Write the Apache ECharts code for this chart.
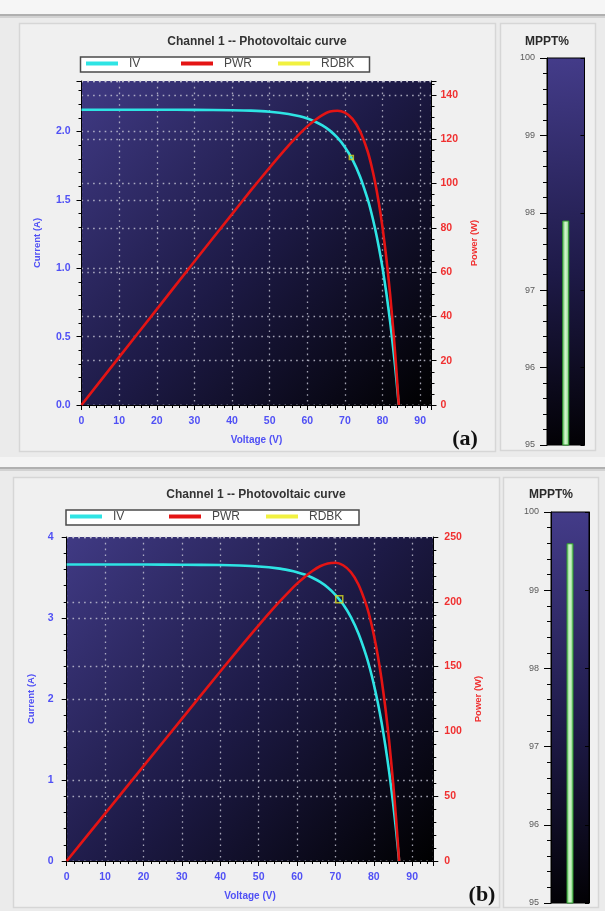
<!DOCTYPE html>
<html>
<head>
<meta charset="utf-8">
<script src="https://cdn.jsdelivr.net/npm/echarts@6/dist/echarts.min.js"></script>
<style>
  html, body { margin: 0; padding: 0; background: #ebebeb; }
  #chart { width: 605px; height: 911px; }
</style>
</head>
<body>
<div id="chart"></div>
<script>
// ---- Panel (a): PV sweep, lower irradiance ----
const voltsA = [0, 10, 20, 30, 40, 45, 50, 55, 58, 60, 62, 64, 66, 68, 70, 72, 74, 76, 77, 78, 79, 80, 81, 82, 83, 83.7, 84.3];
const ampsA  = [2.160, 2.160, 2.160, 2.159, 2.156, 2.153, 2.145, 2.129, 2.112, 2.096, 2.074, 2.045, 2.007, 1.955, 1.886, 1.795, 1.672, 1.509, 1.408, 1.291, 1.156, 1.000, 0.819, 0.611, 0.370, 0.179, 0];
const wattsA = [0, 21.6, 43.2, 64.8, 86.2, 96.9, 107.2, 117.1, 122.5, 125.8, 128.6, 130.9, 132.5, 132.9, 132.0, 129.2, 123.7, 114.7, 108.4, 100.7, 91.3, 80.0, 66.3, 50.1, 30.7, 15.0, 0];
const readbackA = [71.7, 1.81];
const mpptA = [97.9];

// ---- Panel (b): PV sweep, higher irradiance ----
const voltsB = [0, 10, 20, 30, 40, 45, 50, 55, 58, 60, 62, 64, 66, 68, 70, 72, 74, 76, 78, 79, 80, 81, 82, 83, 84, 85, 85.8, 86.6];
const ampsB  = [3.660, 3.660, 3.660, 3.658, 3.654, 3.648, 3.636, 3.613, 3.588, 3.566, 3.536, 3.497, 3.445, 3.377, 3.287, 3.169, 3.013, 2.808, 2.539, 2.373, 2.183, 1.965, 1.716, 1.429, 1.100, 0.723, 0.381, 0];
const wattsB = [0, 36.6, 73.2, 109.7, 146.2, 164.2, 181.8, 198.7, 208.1, 214.0, 219.2, 223.8, 227.4, 229.6, 230.1, 228.2, 223.0, 213.4, 198.0, 187.5, 174.6, 159.2, 140.7, 118.6, 92.4, 61.5, 32.7, 0];
const readbackB = [71.0, 3.23];
const mpptB = [99.6];

// Legend entries and axis texts
const legendNames = ['IV', 'PWR', 'RDBK'];
const chartTitle = 'Channel 1 -- Photovoltaic curve';
const gaugeTitle = 'MPPT%';
const axisNames = { volt: 'Voltage (V)', amp: 'Current (A)', watt: 'Power (W)' };

const FONT = 'Liberation Sans, Arial, sans-serif';
const BLUE = '#5050f5';
const RED = '#f03030';
const CYAN = '#2ee4e4';
const LINE_RED = '#e41414';
const YELLOW = '#eeee10';
const legendColors = [CYAN, LINE_RED, YELLOW];

const plotBg = () => new echarts.graphic.LinearGradient(0, 0, 1, 1, [
  { offset: 0, color: '#403a84' },
  { offset: 0.5, color: '#1d1a46' },
  { offset: 1, color: '#000000' }
]);
const gaugeBg = () => new echarts.graphic.LinearGradient(0, 0, 1, 1, [
  { offset: 0, color: '#443c8a' },
  { offset: 0.55, color: '#1e1a48' },
  { offset: 1, color: '#020104' }
]);
const barFill = () => new echarts.graphic.LinearGradient(0, 0, 1, 0, [
  { offset: 0, color: '#6cc86c' },
  { offset: 0.5, color: '#d8f6d2' },
  { offset: 1, color: '#6cc86c' }
]);

const dotted = { show: true, lineStyle: { color: 'rgba(200,200,215,0.8)', width: 1.3, type: [1.6, 4.2] } };
const blackLine = { show: true, onZero: false, lineStyle: { color: '#000', width: 1 } };

function xAxisPV(grid, max) {
  return {
    gridIndex: grid, type: 'value', min: 0, max: max, interval: 10,
    axisLine: blackLine,
    axisTick: { show: true, length: 5, lineStyle: { color: '#000' } },
    minorTick: { show: true, splitNumber: 5, length: 3, lineStyle: { color: '#000' } },
    axisLabel: { color: BLUE, fontSize: 10.5, fontWeight: 'bold', fontFamily: FONT, margin: 11, showMaxLabel: false },
    splitLine: dotted,
    name: axisNames.volt, nameLocation: 'middle', nameGap: 30,
    nameTextStyle: { color: BLUE, fontSize: 10, fontWeight: 'bold', fontFamily: FONT }
  };
}
function yAxisPV(grid, pos, max, interval, minor, color, name, gap, margin, fmt, showMax) {
  return {
    gridIndex: grid, type: 'value', position: pos, min: 0, max: max, interval: interval,
    axisLine: blackLine,
    axisTick: { show: true, length: 5, lineStyle: { color: '#000' } },
    minorTick: { show: true, splitNumber: minor, length: 3, lineStyle: { color: '#000' } },
    axisLabel: { color: color, fontSize: 10.5, fontWeight: 'bold', fontFamily: FONT, margin: margin, showMaxLabel: showMax, formatter: fmt },
    splitLine: dotted,
    name: name, nameLocation: 'middle', nameRotate: 90, nameGap: gap,
    nameTextStyle: { color: color, fontSize: 9.5, fontWeight: 'bold', fontFamily: FONT }
  };
}
function yAxisGauge(grid, pos) {
  const left = pos === 'left';
  return {
    gridIndex: grid, type: 'value', position: pos, min: 95, max: 100, interval: 1,
    axisLine: { show: true, lineStyle: { color: '#000' } },
    axisTick: { show: true, inside: !left, length: left ? 7 : 4, lineStyle: { color: '#000' } },
    minorTick: { show: left, splitNumber: 5, length: 4, lineStyle: { color: '#000' } },
    axisLabel: { show: left, color: '#5a5a5a', fontSize: 9, fontFamily: FONT, margin: 12 },
    splitLine: { show: false }
  };
}
// One legend entry per component so each sits at its own slot inside the framed box
function legendEntries(lefts, top) {
  return legendNames.map((name, i) => ({
    left: lefts[i], top: top, padding: 0, itemWidth: 32, itemHeight: 4,
    selectedMode: false,
    textStyle: { color: '#484848', fontSize: 12, fontFamily: FONT, padding: [0, 0, 0, 6] },
    data: [{ name: name, icon: 'rect', itemStyle: { color: legendColors[i], borderWidth: 0 } }]
  }));
}
function pvSeries(gridX, yI, yP, volts, amps, watts, rb, rbSize) {
  return [
    { name: legendNames[0], type: 'line', xAxisIndex: gridX, yAxisIndex: yI,
      data: volts.map((v, i) => [v, amps[i]]), showSymbol: false, smooth: 0.25, z: 3,
      lineStyle: { color: CYAN, width: 2.6 }, itemStyle: { color: CYAN } },
    { name: legendNames[1], type: 'line', xAxisIndex: gridX, yAxisIndex: yP,
      data: volts.map((v, i) => [v, watts[i]]), showSymbol: false, smooth: 0.25, z: 3,
      lineStyle: { color: LINE_RED, width: 2.6 }, itemStyle: { color: LINE_RED } },
    { name: legendNames[2], type: 'scatter', xAxisIndex: gridX, yAxisIndex: yI,
      data: [rb], symbol: 'rect', symbolSize: rbSize, z: 5,
      itemStyle: { color: 'rgba(0,0,0,0)', borderColor: '#d6d820', borderWidth: 1.5 } }
  ];
}
function gaugeSeries(xIdx, yIdx, val) {
  return { type: 'bar', xAxisIndex: xIdx, yAxisIndex: yIdx, data: val, barWidth: 7,
    itemStyle: { color: barFill(), borderColor: '#2f9a2f', borderWidth: 1 }, z: 3 };
}

// Frames, separators, legend boxes and free-standing captions
const graphics = [
  { type: 'rect', shape: { x: 0, y: 0, width: 605, height: 14 }, style: { fill: '#f6f6f6' }, z: -20 },
  { type: 'rect', shape: { x: 0, y: 14, width: 605, height: 2 }, style: { fill: '#b0b0b0' }, z: -19 },
  { type: 'rect', shape: { x: 0, y: 16, width: 605, height: 2 }, style: { fill: '#d2d2d2' }, z: -19 },
  { type: 'rect', shape: { x: 0, y: 457, width: 605, height: 10 }, style: { fill: '#f4f4f4' }, z: -20 },
  { type: 'rect', shape: { x: 0, y: 467, width: 605, height: 2 }, style: { fill: '#b0b0b0' }, z: -19 },
  { type: 'rect', shape: { x: 0, y: 469, width: 605, height: 2 }, style: { fill: '#d2d2d2' }, z: -19 },
  { type: 'rect', shape: { x: 19.5, y: 23.5, width: 476, height: 428 }, style: { fill: '#f0f0f0', stroke: '#d6d6d6', lineWidth: 1.5 }, z: -18 },
  { type: 'rect', shape: { x: 500.5, y: 23.5, width: 95, height: 427 }, style: { fill: '#f0f0f0', stroke: '#d6d6d6', lineWidth: 1.5 }, z: -18 },
  { type: 'rect', shape: { x: 13.5, y: 477.5, width: 486, height: 430 }, style: { fill: '#f0f0f0', stroke: '#d6d6d6', lineWidth: 1.5 }, z: -18 },
  { type: 'rect', shape: { x: 503.5, y: 477.5, width: 95, height: 430 }, style: { fill: '#f0f0f0', stroke: '#d6d6d6', lineWidth: 1.5 }, z: -18 },
  { type: 'rect', shape: { x: 80.5, y: 57, width: 289, height: 15 }, style: { fill: '#ffffff', stroke: '#4a4a4a', lineWidth: 1.5 }, z: -5 },
  { type: 'rect', shape: { x: 66, y: 510, width: 293, height: 15 }, style: { fill: '#ffffff', stroke: '#4a4a4a', lineWidth: 1.5 }, z: -5 },
  { type: 'text', x: 257, y: 42, style: { text: chartTitle, fill: '#333', font: 'bold 12px ' + FONT, textAlign: 'center', textVerticalAlign: 'middle' }, z: 10 },
  { type: 'text', x: 256, y: 495, style: { text: chartTitle, fill: '#333', font: 'bold 12px ' + FONT, textAlign: 'center', textVerticalAlign: 'middle' }, z: 10 },
  { type: 'text', x: 547, y: 42, style: { text: gaugeTitle, fill: '#2a2a2a', font: 'bold 12px ' + FONT, textAlign: 'center', textVerticalAlign: 'middle' }, z: 10 },
  { type: 'text', x: 551, y: 495, style: { text: gaugeTitle, fill: '#2a2a2a', font: 'bold 12px ' + FONT, textAlign: 'center', textVerticalAlign: 'middle' }, z: 10 },
  { type: 'text', x: 465, y: 439, style: { text: '(a)', fill: '#111', font: 'bold 22px Liberation Serif, serif', textAlign: 'center', textVerticalAlign: 'middle' }, z: 10 },
  { type: 'text', x: 482, y: 895, style: { text: '(b)', fill: '#111', font: 'bold 22px Liberation Serif, serif', textAlign: 'center', textVerticalAlign: 'middle' }, z: 10 }
];

const chart = echarts.init(document.getElementById('chart'), null, { renderer: 'canvas' });
chart.setOption({
  backgroundColor: '#ebebeb',
  animation: false,
  graphic: { elements: graphics },
  legend: [...legendEntries([86, 181, 278], 57.5), ...legendEntries([70, 169, 266], 510.5)],
  grid: [
    { left: 81.5, top: 81, width: 350, height: 324, show: true, backgroundColor: plotBg(), borderWidth: 0 },
    { left: 547, top: 58, width: 37.5, height: 387, show: true, backgroundColor: gaugeBg(), borderColor: '#000', borderWidth: 1 },
    { left: 66.7, top: 537, width: 366.6, height: 324, show: true, backgroundColor: plotBg(), borderWidth: 0 },
    { left: 551, top: 512, width: 38, height: 391, show: true, backgroundColor: gaugeBg(), borderColor: '#000', borderWidth: 1 }
  ],
  xAxis: [
    xAxisPV(0, 93),
    { gridIndex: 1, type: 'category', data: ['MPPT'], show: false },
    xAxisPV(2, 95.5),
    { gridIndex: 3, type: 'category', data: ['MPPT'], show: false }
  ],
  yAxis: [
    yAxisPV(0, 'left', 2.37, 0.5, 5, BLUE, axisNames.amp, 39, 11, v => v.toFixed(1), false),
    yAxisPV(0, 'right', 146.3, 20, 4, RED, axisNames.watt, 36, 9, v => String(v), false),
    yAxisGauge(1, 'left'),
    yAxisGauge(1, 'right'),
    yAxisPV(2, 'left', 4, 1, 5, BLUE, axisNames.amp, 30, 13, v => String(v), true),
    yAxisPV(2, 'right', 250, 50, 5, RED, axisNames.watt, 40, 11, v => String(v), true),
    yAxisGauge(3, 'left'),
    yAxisGauge(3, 'right')
  ],
  series: [
    ...pvSeries(0, 0, 1, voltsA, ampsA, wattsA, readbackA, 4),
    gaugeSeries(1, 2, mpptA),
    ...pvSeries(2, 4, 5, voltsB, ampsB, wattsB, readbackB, 7),
    gaugeSeries(3, 6, mpptB)
  ]
});
</script>
</body>
</html>
